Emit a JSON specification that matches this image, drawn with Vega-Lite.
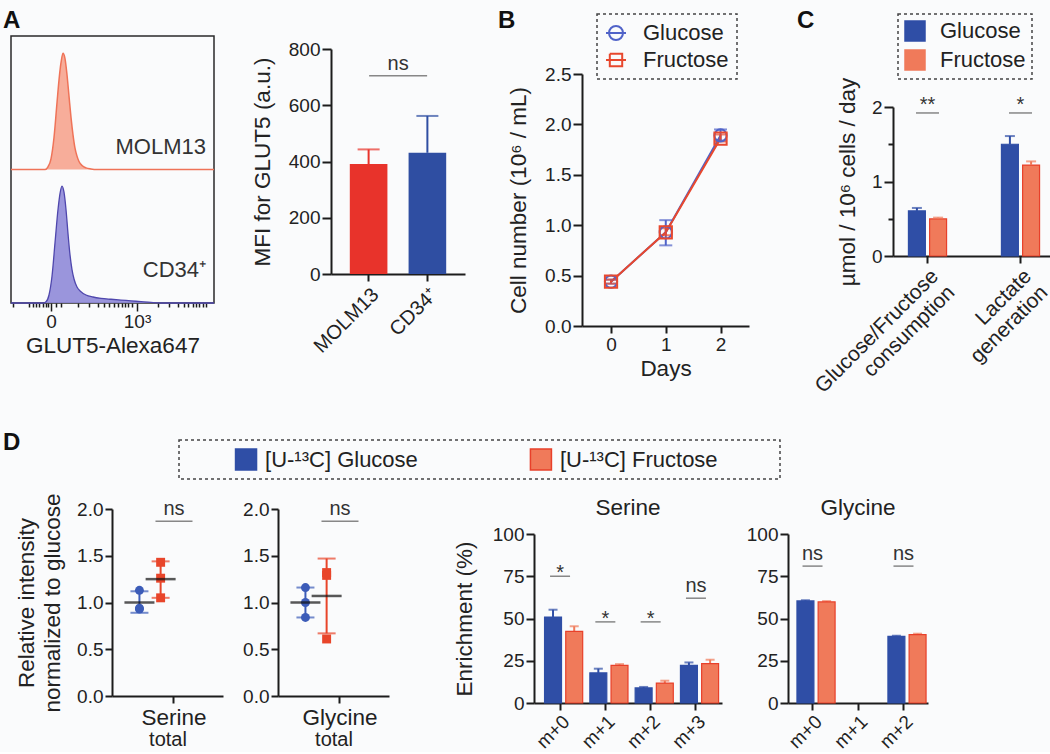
{
  "$schema": "https://vega.github.io/schema/vega-lite/v6.json",
  "background": "#fafbfc",
  "padding": {"left": 0, "top": 8, "right": 0, "bottom": 0},
  "config": {
    "font": "Liberation Sans",
    "view": {"stroke": null},
    "axis": {"domainColor": "#1c1c1c", "domainWidth": 2, "tickColor": "#1c1c1c", "tickWidth": 2, "tickSize": 8, "labelFontSize": 19, "labelColor": "#222", "labelPadding": 2, "titleFontSize": 22.5, "titleFontWeight": "normal", "titleColor": "#222", "grid": false},
    "title": {"fontSize": 24, "fontWeight": "bold", "anchor": "start", "frame": "group", "color": "#111", "baseline": "alphabetic"},
    "legend": {"labelFontSize": 22, "labelColor": "#222"}
  },
  "datasets": {
    "cd34": [
      {"u": -40, "d": 0}, {"u": -8, "d": 0}, {"u": -5, "d": 0.01}, {"u": -2, "d": 0.06}, {"u": 1, "d": 0.2}, {"u": 4, "d": 0.45}, {"u": 7, "d": 0.7}, {"u": 9, "d": 0.82}, {"u": 11, "d": 0.876}, {"u": 13, "d": 0.83}, {"u": 15, "d": 0.7}, {"u": 17, "d": 0.52}, {"u": 19, "d": 0.36}, {"u": 21, "d": 0.25}, {"u": 23, "d": 0.18}, {"u": 26, "d": 0.12}, {"u": 30, "d": 0.085}, {"u": 35, "d": 0.06}, {"u": 42, "d": 0.045}, {"u": 50, "d": 0.035}, {"u": 60, "d": 0.028}, {"u": 70, "d": 0.022}, {"u": 80, "d": 0.016}, {"u": 90, "d": 0.01}, {"u": 100, "d": 0.004}, {"u": 110, "d": 0}, {"u": 163, "d": 0}
    ],
    "molm": [
      {"u": -40, "d": 0}, {"u": -6, "d": 0}, {"u": -3, "d": 0.02}, {"u": 0, "d": 0.08}, {"u": 3, "d": 0.24}, {"u": 6, "d": 0.5}, {"u": 8, "d": 0.67}, {"u": 10, "d": 0.8}, {"u": 12, "d": 0.87}, {"u": 14, "d": 0.83}, {"u": 16, "d": 0.71}, {"u": 18, "d": 0.55}, {"u": 20, "d": 0.39}, {"u": 22, "d": 0.26}, {"u": 24, "d": 0.16}, {"u": 26, "d": 0.1}, {"u": 28, "d": 0.06}, {"u": 31, "d": 0.03}, {"u": 35, "d": 0.012}, {"u": 40, "d": 0.004}, {"u": 46, "d": 0}, {"u": 163, "d": 0}
    ],
    "hlabCD": [{"t": "CD34⁺", "u": 155, "d": 0.25}],
    "hlabMO": [{"t": "MOLM13", "u": 155, "d": 0.17}],
    "mfi": [
      {"cell": "MOLM13", "mfi": 391, "hi": 443},
      {"cell": "CD34⁺", "mfi": 431, "hi": 562}
    ],
    "growth": [
      {"sugar": "Glucose", "day": 0, "mean": 0.44, "lo": 0.42, "hi": 0.46},
      {"sugar": "Glucose", "day": 1, "mean": 0.93, "lo": 0.8, "hi": 1.05},
      {"sugar": "Glucose", "day": 2, "mean": 1.89, "lo": 1.84, "hi": 1.95},
      {"sugar": "Fructose", "day": 0, "mean": 0.44, "lo": 0.42, "hi": 0.46},
      {"sugar": "Fructose", "day": 1, "mean": 0.93, "lo": 0.9, "hi": 0.97},
      {"sugar": "Fructose", "day": 2, "mean": 1.86, "lo": 1.83, "hi": 1.9}
    ],
    "cdat": [
      {"measure": "Glucose/Fructose consumption", "sugar": "Glucose", "v": 0.605, "hi": 0.645},
      {"measure": "Glucose/Fructose consumption", "sugar": "Fructose", "v": 0.497, "hi": 0.515},
      {"measure": "Lactate generation", "sugar": "Glucose", "v": 1.5, "hi": 1.61},
      {"measure": "Lactate generation", "sugar": "Fructose", "v": 1.22, "hi": 1.27}
    ],
    "csig": [
      {"measure": "Glucose/Fructose consumption", "s": "**", "line": 1.92, "ty": 2.03},
      {"measure": "Lactate generation", "s": "*", "line": 1.92, "ty": 2.03}
    ],
    "dotS": [
      {"aa": "Serine", "sugar": "Glucose", "v": 1.13},
      {"aa": "Serine", "sugar": "Glucose", "v": 0.93},
      {"aa": "Serine", "sugar": "Glucose", "v": 0.94},
      {"aa": "Serine", "sugar": "Fructose", "v": 1.43},
      {"aa": "Serine", "sugar": "Fructose", "v": 1.26},
      {"aa": "Serine", "sugar": "Fructose", "v": 1.05}
    ],
    "dotSsum": [
      {"aa": "Serine", "sugar": "Glucose", "mean": 1.0, "lo": 0.89, "hi": 1.12},
      {"aa": "Serine", "sugar": "Fructose", "mean": 1.25, "lo": 1.05, "hi": 1.44}
    ],
    "dotSsig": [{"aa": "Serine", "s": "ns", "line": 1.87, "ty": 2.0}],
    "dotG": [
      {"aa": "Glycine", "sugar": "Glucose", "v": 1.16},
      {"aa": "Glycine", "sugar": "Glucose", "v": 1.0},
      {"aa": "Glycine", "sugar": "Glucose", "v": 0.84},
      {"aa": "Glycine", "sugar": "Fructose", "v": 1.32},
      {"aa": "Glycine", "sugar": "Fructose", "v": 1.29},
      {"aa": "Glycine", "sugar": "Fructose", "v": 0.61}
    ],
    "dotGsum": [
      {"aa": "Glycine", "sugar": "Glucose", "mean": 1.0, "lo": 0.84, "hi": 1.16},
      {"aa": "Glycine", "sugar": "Fructose", "mean": 1.07, "lo": 0.67, "hi": 1.47}
    ],
    "dotGsig": [{"aa": "Glycine", "s": "ns", "line": 1.87, "ty": 2.0}],
    "enrS": [
      {"iso": "m+0", "sugar": "Glucose", "v": 50.9, "hi": 55.2},
      {"iso": "m+1", "sugar": "Glucose", "v": 17.8, "hi": 20.3},
      {"iso": "m+2", "sugar": "Glucose", "v": 8.9, "hi": 9.5},
      {"iso": "m+3", "sugar": "Glucose", "v": 22.3, "hi": 24.0},
      {"iso": "m+0", "sugar": "Fructose", "v": 42.4, "hi": 45.4},
      {"iso": "m+1", "sugar": "Fructose", "v": 22.3, "hi": 23.0},
      {"iso": "m+2", "sugar": "Fructose", "v": 11.8, "hi": 13.2},
      {"iso": "m+3", "sugar": "Fructose", "v": 23.3, "hi": 25.6}
    ],
    "sigS": [
      {"iso": "m+0", "s": "*", "line": 75, "ty": 77},
      {"iso": "m+1", "s": "*", "line": 48, "ty": 50},
      {"iso": "m+2", "s": "*", "line": 48, "ty": 50},
      {"iso": "m+3", "s": "ns", "line": 62, "ty": 69}
    ],
    "enrG": [
      {"iso": "m+0", "sugar": "Glucose", "v": 60.4, "hi": 60.8},
      {"iso": "m+2", "sugar": "Glucose", "v": 39.4, "hi": 39.8},
      {"iso": "m+0", "sugar": "Fructose", "v": 59.8, "hi": 60.3},
      {"iso": "m+2", "sugar": "Fructose", "v": 40.4, "hi": 41.0}
    ],
    "sigG": [
      {"iso": "m+0", "s": "ns", "line": 81, "ty": 88},
      {"iso": "m+2", "s": "ns", "line": 81, "ty": 88}
    ]
  },
  "columns": 1,
  "align": "none",
  "spacing": 17,
  "resolve": {"scale": {"color": "independent", "shape": "independent", "stroke": "independent"}, "legend": {"color": "independent", "shape": "independent", "stroke": "independent"}},
  "concat": [
    {
      "align": "none", "spacing": 48,
      "resolve": {"scale": {"color": "independent", "shape": "independent", "stroke": "independent"}, "legend": {"color": "independent", "shape": "independent", "stroke": "independent"}},
      "concat": [
        {
          "align": "none", "spacing": 33,
          "resolve": {"scale": {"color": "independent", "shape": "independent", "stroke": "independent"}, "legend": {"color": "independent", "shape": "independent", "stroke": "independent"}},
          "concat": [
            {
              "align": "none", "spacing": 33,
              "resolve": {"scale": {"color": "independent", "shape": "independent", "stroke": "independent"}, "legend": {"color": "independent", "shape": "independent", "stroke": "independent"}},
              "concat": [
                {
                  "align": "none", "spacing": 1,
                  "resolve": {"scale": {"color": "independent", "shape": "independent", "stroke": "independent"}, "legend": {"color": "independent", "shape": "independent", "stroke": "independent"}},
                  "concat": [
                    {"width": 1, "height": 1, "data": {"values": [{}]}, "mark": {"type": "point", "opacity": 0, "size": 0}},
                    {
                      "width": 203, "height": 267,
                      "view": {"stroke": "#2a2a2a", "strokeWidth": 1.5},
                      "title": {"text": "A", "dx": -8, "offset": 3},
                      "encoding": {
                        "x": {"field": "u", "type": "quantitative", "scale": {"domain": [-40, 163], "nice": false, "zero": false},
                          "axis": {"title": "GLUT5-Alexa647", "domain": false, "values": [-38, -22, -18, -15, -12, -8, -5, -3, 0, 5, 10, 27, 38, 47, 53, 58, 63, 67, 71, 74, 77, 81, 86, 107, 118, 127, 133, 137, 142, 145, 148, 152, 155],
                            "labelExpr": "datum.value == 0 ? '0' : (datum.value == 86 ? '10³' : '')",
                            "tickSize": {"condition": {"test": "datum.value == 0 || datum.value == 86", "value": 8}, "value": 4},
                            "tickWidth": 1.5, "labelOverlap": false, "labelFlush": false, "labelPadding": 1, "titlePadding": 3}}
                      },
                      "resolve": {"scale": {"y": "independent"}},
                      "layer": [
                        {
                          "layer": [
                            {"data": {"name": "cd34"}, "mark": {"type": "area", "color": "#8f8ad8", "opacity": 0.9, "interpolate": "monotone"}, "encoding": {"y": {"field": "d", "type": "quantitative", "scale": {"domain": [0, 2]}, "axis": null}}},
                            {"data": {"name": "cd34"}, "mark": {"type": "line", "color": "#4f47ad", "strokeWidth": 1.3, "interpolate": "monotone"}, "encoding": {"y": {"field": "d", "type": "quantitative", "axis": null}}},
                            {"data": {"name": "hlabCD"}, "mark": {"type": "text", "align": "right", "baseline": "middle", "fontSize": 22, "color": "#333"}, "encoding": {"y": {"field": "d", "type": "quantitative", "axis": null}, "text": {"field": "t"}}}
                          ]
                        },
                        {
                          "layer": [
                            {"data": {"name": "molm"}, "mark": {"type": "area", "color": "#f6a48f", "opacity": 0.9, "interpolate": "monotone"}, "encoding": {"y": {"field": "d", "type": "quantitative", "scale": {"domain": [-1, 1]}, "axis": null}}},
                            {"data": {"name": "molm"}, "mark": {"type": "line", "color": "#ef7358", "strokeWidth": 1.5, "interpolate": "monotone"}, "encoding": {"y": {"field": "d", "type": "quantitative", "axis": null}}},
                            {"data": {"name": "hlabMO"}, "mark": {"type": "text", "align": "right", "baseline": "middle", "fontSize": 22, "color": "#333"}, "encoding": {"y": {"field": "d", "type": "quantitative", "axis": null}, "text": {"field": "t"}}}
                          ]
                        }
                      ]
                    }
                  ]
                },
                {
                  "width": 134, "height": 238,
                  "data": {"name": "mfi"},
                  "encoding": {
                    "x": {"field": "cell", "type": "nominal", "scale": {"domain": ["MOLM13", "CD34⁺"], "paddingInner": 0.36, "paddingOuter": 0.32}, "axis": {"title": null, "labelAngle": -45, "labelFontSize": 20, "tickSize": 7, "labelPadding": 3}},
                    "color": {"field": "cell", "type": "nominal", "scale": {"domain": ["MOLM13", "CD34⁺"], "range": ["#e8332b", "#2f4ea2"]}, "legend": null}
                  },
                  "layer": [
                    {"mark": {"type": "rule", "strokeWidth": 2}, "encoding": {"y": {"field": "mfi", "type": "quantitative", "scale": {"domain": [0, 800], "range": [238, 13], "nice": false},
                      "axis": {"title": "MFI for GLUT5 (a.u.)", "values": [0, 100, 200, 300, 400, 500, 600, 700, 800], "labelExpr": "datum.value % 200 == 0 ? datum.label : ''", "tickSize": {"condition": {"test": "datum.value % 200 == 0", "value": 9}, "value": 5}, "titlePadding": 14}},
                      "y2": {"field": "hi"}}},
                    {"mark": {"type": "tick", "thickness": 2, "size": 22}, "encoding": {"y": {"field": "hi", "type": "quantitative"}}},
                    {"mark": {"type": "bar"}, "encoding": {"y": {"field": "mfi", "type": "quantitative"}}},
                    {"data": {"values": [{"cell": "MOLM13", "t": "ns"}]}, "mark": {"type": "tick", "thickness": 1.5, "size": 58, "xOffset": 29.5}, "encoding": {"y": {"datum": 705, "type": "quantitative"}, "color": {"value": "#555"}}},
                    {"data": {"values": [{"cell": "MOLM13", "t": "ns"}]}, "mark": {"type": "text", "fontSize": 20, "baseline": "middle", "xOffset": 29.5}, "encoding": {"y": {"datum": 747, "type": "quantitative"}, "text": {"field": "t"}, "color": {"value": "#333"}}}
                  ]
                }
              ]
            },
            {
              "width": 167, "height": 290,
              "title": {"text": "B", "dx": -84, "offset": -20},
              "data": {"name": "growth"},
              "encoding": {
                "x": {"field": "day", "type": "quantitative", "scale": {"domain": [-0.53, 2.52], "nice": false, "zero": false}, "axis": {"title": "Days", "values": [0, 1, 2], "tickSize": 7, "labelFlush": false, "titlePadding": 3}},
                "color": {"field": "sugar", "type": "nominal", "scale": {"domain": ["Glucose", "Fructose"], "range": ["#5063c8", "#e8482e"]},
                  "legend": {"orient": "none", "legendX": 15, "legendY": -22, "title": null, "labelFontSize": 22, "labelColor": "#222", "symbolSize": 400, "symbolStrokeWidth": 2, "symbolFillColor": "transparent", "labelOffset": 16, "rowPadding": 5, "padding": 8, "strokeColor": "#444", "encode": {"legend": {"update": {"strokeDash": {"value": [3, 3]}, "strokeWidth": {"value": 1.5}}}}}}
              },
              "layer": [
                {"mark": {"type": "point", "filled": false, "size": 0, "strokeWidth": 2, "opacity": 1}, "encoding": {
                  "y": {"field": "mean", "type": "quantitative", "scale": {"domain": [0, 2.5], "range": [290, 38], "nice": false},
                    "axis": {"title": "Cell number (10⁶ / mL)", "values": [0, 0.5, 1, 1.5, 2, 2.5], "format": ".1f", "tickSize": 9, "titlePadding": 14}},
                  "shape": {"field": "sugar", "type": "nominal", "scale": {"domain": ["Glucose", "Fructose"], "range": ["M-1,0H1M0.7,0A0.7,0.7,0,0,0,-0.7,0A0.7,0.7,0,0,1,0.7,0A0.7,0.7,0,0,1,-0.7,0A0.7,0.7,0,0,0,0.7,0", "M-1,0H1M-0.62,-0.62H0.62V0.62H-0.62V-0.62V0.62H0.62V-0.62H-0.62"]},
                    "legend": {"orient": "none", "legendX": 15, "legendY": -22, "title": null, "labelFontSize": 22, "labelColor": "#222", "symbolSize": 400, "symbolStrokeWidth": 2, "symbolFillColor": "transparent", "labelOffset": 16, "rowPadding": 5, "padding": 8, "strokeColor": "#444", "encode": {"legend": {"update": {"strokeDash": {"value": [3, 3]}, "strokeWidth": {"value": 1.5}}}}}}}},
                {"mark": {"type": "line", "strokeWidth": 2}, "encoding": {"y": {"field": "mean", "type": "quantitative"}}},
                {"mark": {"type": "rule", "strokeWidth": 2}, "encoding": {"y": {"field": "lo", "type": "quantitative"}, "y2": {"field": "hi"}}},
                {"mark": {"type": "tick", "thickness": 2, "size": 13, "orient": "horizontal"}, "encoding": {"y": {"field": "lo", "type": "quantitative"}}},
                {"mark": {"type": "tick", "thickness": 2, "size": 13, "orient": "horizontal"}, "encoding": {"y": {"field": "hi", "type": "quantitative"}}},
                {"transform": [{"filter": "datum.sugar == 'Glucose'"}], "mark": {"type": "point", "shape": "circle", "filled": false, "size": 150, "strokeWidth": 2, "opacity": 1}, "encoding": {"y": {"field": "mean", "type": "quantitative"}}},
                {"transform": [{"filter": "datum.sugar == 'Fructose'"}], "mark": {"type": "point", "shape": "square", "filled": false, "size": 150, "strokeWidth": 2, "opacity": 1}, "encoding": {"y": {"field": "mean", "type": "quantitative"}}}
              ]
            }
          ]
        },
        {
          "width": 162, "height": 220,
          "title": {"text": "C", "dx": -96, "offset": -20},
          "data": {"name": "cdat"},
          "encoding": {
            "x": {"field": "measure", "type": "nominal", "scale": {"domain": ["Glucose/Fructose consumption", "Lactate generation"], "paddingInner": 0.59, "paddingOuter": 0.166}, "axis": {"title": null, "labelAngle": -45, "labelExpr": "split(datum.label, ' ')", "labelFontSize": 21, "tickSize": 7, "labelLineHeight": 23}},
            "color": {"field": "sugar", "type": "nominal", "scale": {"domain": ["Glucose", "Fructose"], "range": ["#2f4ea6", "#f07a5a"]},
              "legend": {"orient": "none", "legendX": 5, "legendY": -22, "title": null, "labelFontSize": 22, "labelColor": "#222", "symbolType": "square", "symbolSize": 400, "symbolStrokeWidth": 1.5, "labelOffset": 14, "rowPadding": 3, "padding": 6, "strokeColor": "#444", "encode": {"legend": {"update": {"strokeDash": {"value": [3, 3]}, "strokeWidth": {"value": 1.5}}}}}}
          },
          "layer": [
            {"mark": {"type": "bar", "strokeWidth": 1.2}, "encoding": {"xOffset": {"field": "sugar", "type": "nominal", "scale": {"domain": ["Glucose", "Fructose"], "paddingInner": 0.2}},
              "y": {"field": "v", "type": "quantitative", "scale": {"domain": [0, 2], "range": [220, 71], "nice": false},
                "axis": {"title": "µmol / 10⁶ cells / day", "values": [0, 0.5, 1, 1.5, 2], "format": ".0f", "labelExpr": "datum.value % 1 == 0 ? datum.label : ''", "tickSize": {"condition": {"test": "datum.value % 1 == 0", "value": 9}, "value": 5}, "titlePadding": 12}},
              "stroke": {"field": "sugar", "type": "nominal", "scale": {"domain": ["Glucose", "Fructose"], "range": ["#2f4ea6", "#e8402a"]},
                "legend": {"orient": "none", "legendX": 5, "legendY": -22, "title": null, "labelFontSize": 22, "labelColor": "#222", "symbolType": "square", "symbolSize": 400, "symbolStrokeWidth": 1.5, "labelOffset": 14, "rowPadding": 3, "padding": 6, "strokeColor": "#444", "encode": {"legend": {"update": {"strokeDash": {"value": [3, 3]}, "strokeWidth": {"value": 1.5}}}}}}}},
            {"mark": {"type": "rule", "strokeWidth": 2}, "encoding": {"xOffset": {"field": "sugar", "type": "nominal", "scale": {"domain": ["Glucose", "Fructose"], "paddingInner": 0.2}}, "y": {"field": "v", "type": "quantitative"}, "y2": {"field": "hi"}}},
            {"mark": {"type": "tick", "thickness": 2, "size": 10}, "encoding": {"xOffset": {"field": "sugar", "type": "nominal", "scale": {"domain": ["Glucose", "Fructose"], "paddingInner": 0.2}}, "y": {"field": "hi", "type": "quantitative"}}},
            {"data": {"name": "csig"}, "mark": {"type": "tick", "thickness": 1.5, "size": 23}, "encoding": {"y": {"field": "line", "type": "quantitative"}, "color": {"value": "#555"}}},
            {"data": {"name": "csig"}, "mark": {"type": "text", "fontSize": 20, "baseline": "middle"}, "encoding": {"y": {"field": "ty", "type": "quantitative"}, "text": {"field": "s"}, "color": {"value": "#333"}}}
          ]
        }
      ]
    },
    {
      "columns": 1, "align": "none", "spacing": 13,
      "resolve": {"scale": {"color": "independent", "shape": "independent", "stroke": "independent"}, "legend": {"color": "independent", "shape": "independent", "stroke": "independent"}},
      "concat": [
        {
          "align": "none", "spacing": 1,
          "resolve": {"scale": {"color": "independent", "shape": "independent", "stroke": "independent"}, "legend": {"color": "independent", "shape": "independent", "stroke": "independent"}},
          "concat": [
            {"width": 1, "height": 1, "data": {"values": [{}]}, "mark": {"type": "point", "opacity": 0, "size": 0}},
            {
              "width": 601, "height": 39,
              "view": {"stroke": "#444", "strokeDash": [3, 3], "strokeWidth": 1.5},
              "title": {"text": "D", "dx": -176, "offset": -15},
              "data": {"values": [{"sugar": "Glucose", "label": "[U-¹³C] Glucose"}, {"sugar": "Fructose", "label": "[U-¹³C] Fructose"}]},
              "encoding": {"x": {"field": "sugar", "type": "nominal", "scale": {"type": "point", "domain": ["Glucose", "Fructose"], "padding": 0.519, "align": 0.219}, "axis": null}},
              "layer": [
                {"mark": {"type": "point", "shape": "square", "filled": true, "size": 441, "strokeWidth": 1.5, "opacity": 1}, "encoding": {
                  "color": {"field": "sugar", "type": "nominal", "scale": {"domain": ["Glucose", "Fructose"], "range": ["#2f4ea6", "#f07a5a"]}, "legend": null},
                  "stroke": {"field": "sugar", "type": "nominal", "scale": {"domain": ["Glucose", "Fructose"], "range": ["#2f4ea6", "#e8402a"]}, "legend": null}}},
                {"mark": {"type": "text", "align": "left", "baseline": "middle", "dx": 19, "fontSize": 22, "color": "#222"}, "encoding": {"text": {"field": "label"}}}
              ]
            }
          ]
        },
        {
          "align": "none", "spacing": 24,
          "resolve": {"scale": {"color": "independent", "shape": "independent", "stroke": "independent"}, "legend": {"color": "independent", "shape": "independent", "stroke": "independent"}},
          "concat": [
            {
              "align": "none", "spacing": 64,
              "resolve": {"scale": {"color": "independent", "shape": "independent", "stroke": "independent"}, "legend": {"color": "independent", "shape": "independent", "stroke": "independent"}},
              "concat": [
                {
                  "align": "none", "spacing": 19,
                  "resolve": {"scale": {"color": "independent", "shape": "independent", "stroke": "independent"}, "legend": {"color": "independent", "shape": "independent", "stroke": "independent"}},
                  "concat": [
                    {
                      "align": "none", "spacing": 14,
                      "resolve": {"scale": {"color": "independent", "shape": "independent", "stroke": "independent"}, "legend": {"color": "independent", "shape": "independent", "stroke": "independent"}},
                      "concat": [
                        {"width": 1, "height": 1, "data": {"values": [{}]}, "mark": {"type": "point", "opacity": 0, "size": 0}},
                        {
                          "width": 111, "height": 187,
                          "encoding": {"x": {"field": "aa", "type": "nominal", "scale": {"domain": ["Serine"], "paddingInner": 0, "paddingOuter": 0.145, "align": 0.76}, "axis": {"title": "total", "titleFontSize": 20, "labelFontSize": 22.5, "labelAngle": 0, "tickSize": 7, "labelPadding": 3, "titlePadding": 1}}},
                          "layer": [
                            {"data": {"name": "dotSsum"}, "mark": {"type": "rule", "strokeWidth": 2}, "encoding": {"xOffset": {"field": "sugar", "type": "nominal", "scale": {"domain": ["Glucose", "Fructose"], "paddingInner": 0, "paddingOuter": 0}}, "y": {"field": "lo", "type": "quantitative", "scale": {"domain": [0, 2], "nice": false},
                              "axis": {"title": ["Relative intensity", "normalized to glucose"], "values": [0, 0.5, 1, 1.5, 2], "format": ".1f", "tickSize": 7, "titlePadding": 12, "titleLineHeight": 26}},
                              "y2": {"field": "hi"}, "color": {"field": "sugar", "type": "nominal", "scale": {"domain": ["Glucose", "Fructose"], "range": ["#3c5cb8", "#e8452a"]}, "legend": null}}},
                            {"data": {"name": "dotSsum"}, "mark": {"type": "tick", "thickness": 2, "size": 18}, "encoding": {"xOffset": {"field": "sugar", "type": "nominal", "scale": {"domain": ["Glucose", "Fructose"], "paddingInner": 0, "paddingOuter": 0}}, "y": {"field": "lo", "type": "quantitative"}, "color": {"field": "sugar", "type": "nominal", "scale": {"domain": ["Glucose", "Fructose"], "range": ["#3c5cb8", "#e8452a"]}, "legend": null}}},
                            {"data": {"name": "dotSsum"}, "mark": {"type": "tick", "thickness": 2, "size": 18}, "encoding": {"xOffset": {"field": "sugar", "type": "nominal", "scale": {"domain": ["Glucose", "Fructose"], "paddingInner": 0, "paddingOuter": 0}}, "y": {"field": "hi", "type": "quantitative"}, "color": {"field": "sugar", "type": "nominal", "scale": {"domain": ["Glucose", "Fructose"], "range": ["#3c5cb8", "#e8452a"]}, "legend": null}}},
                            {"data": {"name": "dotS"}, "mark": {"type": "point", "filled": true, "size": 80, "opacity": 1}, "encoding": {"xOffset": {"field": "sugar", "type": "nominal", "scale": {"domain": ["Glucose", "Fructose"], "paddingInner": 0, "paddingOuter": 0}}, "y": {"field": "v", "type": "quantitative"}, "color": {"field": "sugar", "type": "nominal", "scale": {"domain": ["Glucose", "Fructose"], "range": ["#3c5cb8", "#e8452a"]}, "legend": null}, "shape": {"field": "sugar", "type": "nominal", "scale": {"domain": ["Glucose", "Fructose"], "range": ["circle", "square"]}, "legend": null}}},
                            {"data": {"name": "dotSsum"}, "mark": {"type": "tick", "thickness": 2.5, "size": 30, "color": "#111"}, "encoding": {"xOffset": {"field": "sugar", "type": "nominal", "scale": {"domain": ["Glucose", "Fructose"], "paddingInner": 0, "paddingOuter": 0}}, "y": {"field": "mean", "type": "quantitative"}}},
                            {"data": {"name": "dotSsig"}, "mark": {"type": "tick", "thickness": 1.5, "size": 37, "color": "#555"}, "encoding": {"y": {"field": "line", "type": "quantitative"}}},
                            {"data": {"name": "dotSsig"}, "mark": {"type": "text", "fontSize": 20, "baseline": "middle", "color": "#333"}, "encoding": {"y": {"field": "ty", "type": "quantitative"}, "text": {"field": "s"}}}
                          ]
                        }
                      ]
                    },
                    {
                      "width": 111, "height": 187,
                      "encoding": {"x": {"field": "aa", "type": "nominal", "scale": {"domain": ["Glycine"], "paddingInner": 0, "paddingOuter": 0.145, "align": 0.76}, "axis": {"title": "total", "titleFontSize": 20, "labelFontSize": 22.5, "labelAngle": 0, "tickSize": 7, "labelPadding": 3, "titlePadding": 1}}},
                      "layer": [
                        {"data": {"name": "dotGsum"}, "mark": {"type": "rule", "strokeWidth": 2}, "encoding": {"xOffset": {"field": "sugar", "type": "nominal", "scale": {"domain": ["Glucose", "Fructose"], "paddingInner": 0, "paddingOuter": 0}}, "y": {"field": "lo", "type": "quantitative", "scale": {"domain": [0, 2], "nice": false},
                          "axis": {"title": null, "values": [0, 0.5, 1, 1.5, 2], "format": ".1f", "tickSize": 7}},
                          "y2": {"field": "hi"}, "color": {"field": "sugar", "type": "nominal", "scale": {"domain": ["Glucose", "Fructose"], "range": ["#3c5cb8", "#e8452a"]}, "legend": null}}},
                        {"data": {"name": "dotGsum"}, "mark": {"type": "tick", "thickness": 2, "size": 18}, "encoding": {"xOffset": {"field": "sugar", "type": "nominal", "scale": {"domain": ["Glucose", "Fructose"], "paddingInner": 0, "paddingOuter": 0}}, "y": {"field": "lo", "type": "quantitative"}, "color": {"field": "sugar", "type": "nominal", "scale": {"domain": ["Glucose", "Fructose"], "range": ["#3c5cb8", "#e8452a"]}, "legend": null}}},
                        {"data": {"name": "dotGsum"}, "mark": {"type": "tick", "thickness": 2, "size": 18}, "encoding": {"xOffset": {"field": "sugar", "type": "nominal", "scale": {"domain": ["Glucose", "Fructose"], "paddingInner": 0, "paddingOuter": 0}}, "y": {"field": "hi", "type": "quantitative"}, "color": {"field": "sugar", "type": "nominal", "scale": {"domain": ["Glucose", "Fructose"], "range": ["#3c5cb8", "#e8452a"]}, "legend": null}}},
                        {"data": {"name": "dotG"}, "mark": {"type": "point", "filled": true, "size": 80, "opacity": 1}, "encoding": {"xOffset": {"field": "sugar", "type": "nominal", "scale": {"domain": ["Glucose", "Fructose"], "paddingInner": 0, "paddingOuter": 0}}, "y": {"field": "v", "type": "quantitative"}, "color": {"field": "sugar", "type": "nominal", "scale": {"domain": ["Glucose", "Fructose"], "range": ["#3c5cb8", "#e8452a"]}, "legend": null}, "shape": {"field": "sugar", "type": "nominal", "scale": {"domain": ["Glucose", "Fructose"], "range": ["circle", "square"]}, "legend": null}}},
                        {"data": {"name": "dotGsum"}, "mark": {"type": "tick", "thickness": 2.5, "size": 30, "color": "#111"}, "encoding": {"xOffset": {"field": "sugar", "type": "nominal", "scale": {"domain": ["Glucose", "Fructose"], "paddingInner": 0, "paddingOuter": 0}}, "y": {"field": "mean", "type": "quantitative"}}},
                        {"data": {"name": "dotGsig"}, "mark": {"type": "tick", "thickness": 1.5, "size": 37, "color": "#555"}, "encoding": {"y": {"field": "line", "type": "quantitative"}}},
                        {"data": {"name": "dotGsig"}, "mark": {"type": "text", "fontSize": 20, "baseline": "middle", "color": "#333"}, "encoding": {"y": {"field": "ty", "type": "quantitative"}, "text": {"field": "s"}}}
                      ]
                    }
                  ]
                },
                {
                  "width": 188, "height": 194,
                  "encoding": {"x": {"field": "iso", "type": "nominal", "scale": {"domain": ["m+0", "m+1", "m+2", "m+3"], "paddingInner": 0.316, "paddingOuter": 0.233}, "axis": {"title": null, "labelAngle": -45, "tickSize": 7, "labelFontSize": 19}}},
                  "layer": [
                    {"data": {"name": "enrS"}, "mark": {"type": "rule", "strokeWidth": 2}, "encoding": {"xOffset": {"field": "sugar", "type": "nominal", "scale": {"domain": ["Glucose", "Fructose"], "paddingInner": 0.12}}, "y": {"field": "v", "type": "quantitative", "scale": {"domain": [0, 100], "range": [194, 25], "nice": false},
                      "axis": {"title": "Enrichment (%)", "values": [0, 25, 50, 75, 100], "tickSize": 8, "titlePadding": 16}},
                      "y2": {"field": "hi"}, "color": {"field": "sugar", "type": "nominal", "scale": {"domain": ["Glucose", "Fructose"], "range": ["#2f4ea6", "#f07a5a"]}, "legend": null}}},
                    {"data": {"name": "enrS"}, "mark": {"type": "tick", "thickness": 2, "size": 9}, "encoding": {"xOffset": {"field": "sugar", "type": "nominal", "scale": {"domain": ["Glucose", "Fructose"], "paddingInner": 0.12}}, "y": {"field": "hi", "type": "quantitative"}, "color": {"field": "sugar", "type": "nominal", "scale": {"domain": ["Glucose", "Fructose"], "range": ["#2f4ea6", "#f07a5a"]}, "legend": null}}},
                    {"data": {"name": "enrS"}, "mark": {"type": "bar", "strokeWidth": 1.2}, "encoding": {"xOffset": {"field": "sugar", "type": "nominal", "scale": {"domain": ["Glucose", "Fructose"], "paddingInner": 0.12}}, "y": {"field": "v", "type": "quantitative"}, "color": {"field": "sugar", "type": "nominal", "scale": {"domain": ["Glucose", "Fructose"], "range": ["#2f4ea6", "#f07a5a"]}, "legend": null}, "stroke": {"field": "sugar", "type": "nominal", "scale": {"domain": ["Glucose", "Fructose"], "range": ["#2f4ea6", "#e8402a"]}, "legend": null}}},
                    {"data": {"name": "sigS"}, "mark": {"type": "tick", "thickness": 1.5, "size": 20, "color": "#555"}, "encoding": {"y": {"field": "line", "type": "quantitative"}}},
                    {"data": {"name": "sigS"}, "mark": {"type": "text", "fontSize": 20, "baseline": "middle", "color": "#333"}, "encoding": {"y": {"field": "ty", "type": "quantitative"}, "text": {"field": "s"}}},
                    {"data": {"values": [{"t": "Serine"}]}, "mark": {"type": "text", "fontSize": 22.5, "baseline": "middle", "color": "#222", "xOffset": 22.65}, "encoding": {"x": {"datum": "m+1"}, "y": {"datum": 115.4, "type": "quantitative"}, "text": {"field": "t"}}}
                  ]
                }
              ]
            },
            {
              "width": 140, "height": 194,
              "encoding": {"x": {"field": "iso", "type": "nominal", "scale": {"domain": ["m+0", "m+1", "m+2"], "paddingInner": 0.316, "paddingOuter": 0.197}, "axis": {"title": null, "labelAngle": -45, "tickSize": 7, "labelFontSize": 19}}},
              "layer": [
                {"data": {"name": "enrG"}, "mark": {"type": "rule", "strokeWidth": 2}, "encoding": {"xOffset": {"field": "sugar", "type": "nominal", "scale": {"domain": ["Glucose", "Fructose"], "paddingInner": 0.12}}, "y": {"field": "v", "type": "quantitative", "scale": {"domain": [0, 100], "range": [194, 25], "nice": false},
                  "axis": {"title": null, "values": [0, 25, 50, 75, 100], "tickSize": 8}},
                  "y2": {"field": "hi"}, "color": {"field": "sugar", "type": "nominal", "scale": {"domain": ["Glucose", "Fructose"], "range": ["#2f4ea6", "#f07a5a"]}, "legend": null}}},
                {"data": {"name": "enrG"}, "mark": {"type": "tick", "thickness": 2, "size": 9}, "encoding": {"xOffset": {"field": "sugar", "type": "nominal", "scale": {"domain": ["Glucose", "Fructose"], "paddingInner": 0.12}}, "y": {"field": "hi", "type": "quantitative"}, "color": {"field": "sugar", "type": "nominal", "scale": {"domain": ["Glucose", "Fructose"], "range": ["#2f4ea6", "#f07a5a"]}, "legend": null}}},
                {"data": {"name": "enrG"}, "mark": {"type": "bar", "strokeWidth": 1.2}, "encoding": {"xOffset": {"field": "sugar", "type": "nominal", "scale": {"domain": ["Glucose", "Fructose"], "paddingInner": 0.12}}, "y": {"field": "v", "type": "quantitative"}, "color": {"field": "sugar", "type": "nominal", "scale": {"domain": ["Glucose", "Fructose"], "range": ["#2f4ea6", "#f07a5a"]}, "legend": null}, "stroke": {"field": "sugar", "type": "nominal", "scale": {"domain": ["Glucose", "Fructose"], "range": ["#2f4ea6", "#e8402a"]}, "legend": null}}},
                {"data": {"name": "sigG"}, "mark": {"type": "tick", "thickness": 1.5, "size": 20, "color": "#555"}, "encoding": {"y": {"field": "line", "type": "quantitative"}}},
                {"data": {"name": "sigG"}, "mark": {"type": "text", "fontSize": 20, "baseline": "middle", "color": "#333"}, "encoding": {"y": {"field": "ty", "type": "quantitative"}, "text": {"field": "s"}}},
                {"data": {"values": [{"t": "Glycine"}]}, "mark": {"type": "text", "fontSize": 22.5, "baseline": "middle", "color": "#222"}, "encoding": {"x": {"datum": "m+1"}, "y": {"datum": 115.4, "type": "quantitative"}, "text": {"field": "t"}}}
              ]
            }
          ]
        }
      ]
    }
  ]
}
